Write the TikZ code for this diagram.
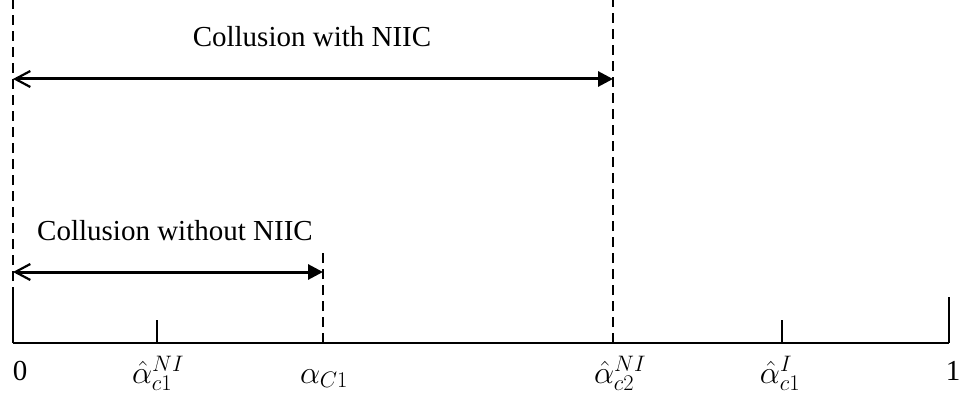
\documentclass[tikz,border=0pt]{standalone}
\usepackage{fix-cm}
\usepackage{fontspec}
\setmainfont{Liberation Serif}
\usetikzlibrary{arrows.meta}
\begin{document}
\begin{tikzpicture}[x=1pt,y=-1pt,line width=2.2pt,
  lab/.style={anchor=base,inner sep=0pt,font=\fontsize{29}{34}\selectfont},
  mlab/.style={anchor=base,inner sep=0pt,font=\fontsize{32}{38}\selectfont},
  guide/.style={line width=2pt,dash pattern=on 10pt off 6pt},
  span/.style={line width=3pt,{Straight Barb[length=15pt,width=16pt,line width=2.2pt]}-{Triangle[length=15pt,width=15pt]}}]
	\useasboundingbox (0,0) rectangle (963,401);
	% axis
	\coordinate (o) at (13,343);
	\coordinate (e) at (949,343);
	\draw (o) -- (e);
	\coordinate (ot) at (13,297);
	\coordinate (et) at (949,297);
	\coordinate (k1) at (157,343);
	\coordinate (k1t) at (157,320);
	\coordinate (k4) at (782,343);
	\coordinate (k4t) at (782,320);
	\draw (o) -- (ot);
	\draw (e) -- (et);
	\draw (k1) -- (k1t);
	\draw (k4) -- (k4t);
	% dashed guides
	\coordinate (g0) at (13,0);
	\coordinate (k2) at (323,343);
	\coordinate (g2) at (323,248);
	\coordinate (k3) at (613,343);
	\coordinate (g3) at (613,0);
	\draw[guide] (ot) -- (g0);
	\draw[guide] (k2) -- (g2);
	\draw[guide] (k3) -- (g3);
	% arrows
	\coordinate (aw) at (13,79);
	\coordinate (bw) at (613,79);
	\coordinate (an) at (13,272);
	\coordinate (bn) at (323,272);
	\draw[span] (aw) -- (bw);
	\draw[span] (an) -- (bn);
	\node[lab] (tw) at (312,47) {Collusion with NIIC};
	\node[lab] (tn) at (175,240) {Collusion without NIIC};
	% labels
	\node[lab] (l0) at (20,380) {0};
	\node[mlab] (l1) at (158,383) {$\hat{\alpha}_{c1}^{NI}$};
	\node[mlab] (l2) at (324,383) {$\alpha_{C1}$};
	\node[mlab] (l3) at (620,383) {$\hat{\alpha}_{c2}^{NI}$};
	\node[mlab] (l4) at (780,383) {$\hat{\alpha}_{c1}^{I}$};
	\node[lab] (l5) at (953,380) {1};
\end{tikzpicture}
\end{document}
